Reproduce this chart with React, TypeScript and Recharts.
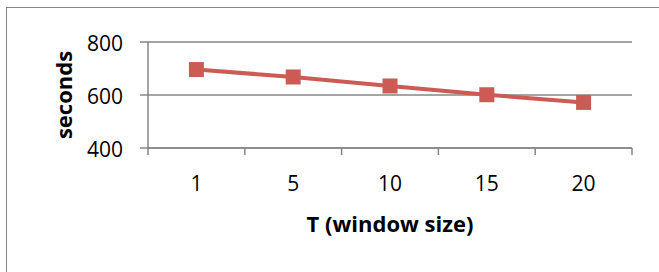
import { LineChart, Line, XAxis, YAxis, CartesianGrid, Label } from "recharts";

const windowSizes = ["1", "5", "10", "15", "20"];
const seconds = [696, 668, 634, 601, 572];
const yTicks = [400, 600, 800];
// slot positions: integers carry labels, halves carry the Excel-style boundary tick marks
const xTicks = [0.5, 1, 1.5, 2, 2.5, 3, 3.5, 4, 4.5, 5, 5.5];

const data = windowSizes.map((t, i) => ({ pos: i + 1, t, seconds: seconds[i] }));

const GREY = "#868686";
const RED = "#CC5B56";
const FONT = "'Open Sans', sans-serif";

const XTick = ({ x, y, payload }: any) => {
  const v = payload.value;
  if (v % 1 !== 0) {
    return <line x1={x} y1={y} x2={x} y2={y + 7} stroke={GREY} strokeWidth={1.5} />;
  }
  return (
    <text x={x} y={y + 43} textAnchor="middle" fontSize={21} fill="#000" fontFamily={FONT}>
      {windowSizes[v - 1]}
    </text>
  );
};

const YLabel = ({ viewBox }: any) => {
  const cx = viewBox.x + 63;
  const cy = viewBox.y + viewBox.height / 2;
  return (
    <text x={cx} y={cy} transform={`rotate(-90, ${cx}, ${cy})`} textAnchor="middle" dominantBaseline="central"
      fontSize={22} fontWeight="bold" fill="#000" fontFamily={FONT}>
      seconds
    </text>
  );
};

const Square = ({ cx, cy }: any) => (
  <rect x={cx - 7.5} y={cy - 7.5} width={15} height={15} fill={RED} />
);

export default function App() {
  return (
    <div style={{ position: "absolute", left: 0, top: 0, width: 659, height: 272, overflow: "hidden", background: "#fff" }}>
      <div style={{ position: "absolute", left: 6, top: 7, width: 700, height: 320, border: `1.5px solid ${GREY}` }} />
      <LineChart width={659} height={272} data={data} margin={{ top: 42, right: 27, bottom: 44, left: 0 }}
        style={{ position: "absolute", left: 0, top: 0 }}>
        <CartesianGrid vertical={false} stroke={GREY} strokeWidth={1.5} />
        <XAxis dataKey="pos" type="number" domain={[0.5, 5.5]} ticks={xTicks} interval={0}
          axisLine={{ stroke: GREY, strokeWidth: 1.5 }} tickLine={false} tickSize={0} tickMargin={0}
          tick={<XTick />} height={80}>
          <Label value="T (window size)" position="insideBottom" offset={-4}
            style={{ fontSize: 22, fontWeight: "bold", fill: "#000", fontFamily: FONT }} />
        </XAxis>
        <YAxis domain={[400, 800]} ticks={yTicks} width={148} tickSize={8} tickMargin={17}
          axisLine={{ stroke: GREY, strokeWidth: 1.5 }} tickLine={{ stroke: GREY, strokeWidth: 1.5 }}
          tick={{ fontSize: 21, fill: "#000", fontFamily: FONT, dy: 2 }}>
          <Label content={<YLabel />} />
        </YAxis>
        <Line dataKey="seconds" stroke={RED} strokeWidth={4} dot={<Square />} activeDot={false}
          isAnimationActive={false} />
      </LineChart>
    </div>
  );
}
